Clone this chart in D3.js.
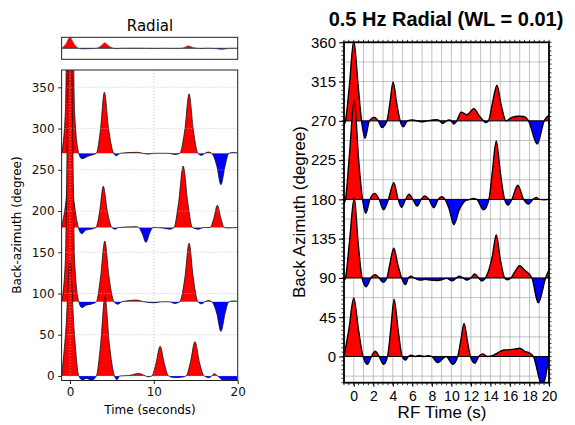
<!DOCTYPE html>
<html><head><meta charset="utf-8">
<script src="https://cdn.jsdelivr.net/npm/d3@7"></script>
<style>body{margin:0;background:#fff}svg{display:block}</style>
</head><body><svg id="c" width="575" height="425"></svg>
<script>
// ---------------- data ----------------
const backAz = [0, 90, 180, 270];
// Left panel (Radial) traces: [time s, amplitude in degrees]
const left0 = [[-1,0],[-0.5,55],[0,138],[0.5,55],[1.05,0],[1.5,-5],[1.9,-3],[2.6,-5],[3.15,0],[3.65,38],[4.17,96],[4.7,38],[5.3,0],[5.6,-4.5],[5.95,0],[7.0,0.5],[8.2,3],[9.0,0],[9.3,-1],[9.75,0],[10.25,15],[10.75,36],[11.25,15],[11.75,0],[12.5,-2],[13.3,-1.5],[13.85,0],[14.35,16],[14.9,41.6],[15.45,16],[16.0,0],[16.6,-2],[16.9,0],[17.2,2.7],[17.6,0],[18.2,-4.5],[19,-4.5],[20,-4.5]];
const left90 = [[-1,0],[-0.55,50],[-0.3,220],[0,400],[0.3,220],[0.55,50],[1.05,0],[1.4,-7],[2.0,-4],[2.5,-3],[3.15,0],[3.65,30],[4.15,73.6],[4.65,30],[5.25,0],[5.7,-3],[6.2,0],[7.95,2],[8.8,0],[10,-1.3],[11.0,0],[11.8,0],[12.5,-2],[13.1,0],[13.7,29],[14.2,71],[14.7,29],[15.25,0],[15.7,-2.5],[16.1,0],[16.5,1.5],[16.9,0],[17.5,-14],[18.0,-36],[18.5,-14],[18.95,0],[19.5,1],[20,0.5]];
const left180 = [[-1,0],[-0.5,30],[0,80],[0.5,30],[1.0,0],[1.4,-7.6],[1.9,-3],[2.5,-2],[3.1,0],[3.55,20],[3.97,50],[4.45,20],[5.0,0],[5.4,-2],[5.8,0],[7.9,1],[8.2,0],[8.6,-7],[9.06,-18],[9.5,-7],[9.9,0],[11.0,-0.5],[11.9,-2],[12.4,0],[12.95,30],[13.5,74.5],[14.05,30],[14.6,0],[15.3,-2],[16.0,0],[16.7,0],[17.15,11],[17.57,27],[18.0,11],[18.4,0],[18.8,-0.5],[20,0]];
const left270 = [[-1,0],[-0.55,50],[-0.3,220],[0,400],[0.3,220],[0.55,50],[1.05,0],[1.4,-6.6],[2.3,-3],[3.15,0],[3.65,30],[4.1,74],[4.6,30],[5.2,0],[5.5,-3],[6.0,0],[7.95,1.2],[8.7,0],[9.3,-1],[10.0,0],[11.8,0],[12.5,-1.5],[13.1,0],[13.7,29],[14.2,72],[14.7,29],[15.25,0],[15.7,-2.5],[16.1,0],[16.5,1.5],[16.9,0],[17.5,-15],[18.0,-38],[18.5,-15],[18.95,0],[19.5,1],[20,0.5]];
// stacked trace (top small panel), normalized
const stackTrace = [[-1,0],[-0.5,0.4],[0,1],[0.5,0.4],[1.05,0],[1.5,-0.06],[2.5,-0.04],[3.15,0],[3.65,0.2],[4.15,0.5],[4.65,0.2],[5.2,0],[5.6,-0.04],[6.1,0],[8,0.02],[9,0],[10,-0.02],[11.5,0],[12.5,-0.02],[13.2,0],[13.7,0.1],[14.1,0.23],[14.6,0.1],[15.2,0],[15.7,-0.03],[16.3,0.01],[16.9,0],[17.5,-0.05],[18.1,-0.12],[18.6,-0.05],[19.0,0],[20,0.01]];
// Right panel (0.5 Hz Radial) traces
const right0 = [[-1,0],[-0.5,31],[0,67],[0.48,31],[0.95,0],[1.4,-8.8],[1.8,0],[2.2,6],[2.6,0],[3.05,-9],[3.46,0],[3.8,32],[4.13,65.5],[4.55,30],[4.96,0],[5.3,-4],[5.6,0],[5.9,1.5],[6.3,0],[6.7,1.2],[7.2,0],[7.6,1],[8.0,0],[8.6,-7],[9.45,0],[10.15,-8.8],[10.65,0],[10.95,17],[11.3,38],[11.65,17],[11.95,0],[12.4,-7.6],[12.8,0],[13.2,3],[13.7,0],[14.2,1],[14.7,4],[15.4,7.5],[16.0,7.8],[16.5,8.5],[17.0,9.5],[17.5,6],[18.0,4],[18.4,0],[19.3,-33],[20,0]];
const right90 = [[-1,-3],[-0.85,0],[-0.45,40],[0.05,92],[0.45,40],[0.85,0],[1.28,-10],[1.75,0],[2.2,3.8],[2.6,0],[3.0,-5],[3.4,0],[3.7,16],[4.1,34],[4.5,16],[4.9,0],[5.3,-7.6],[5.6,0],[5.85,2],[6.2,0],[6.8,-2.5],[7.3,-1.5],[7.9,-2.5],[8.5,-3],[9.0,-2],[9.5,-0.5],[10.1,-3.3],[10.5,0],[10.8,2],[11.2,0],[11.6,-2.5],[12.0,0],[12.4,4.5],[12.8,0],[13.1,-3.4],[13.5,0],[14.2,25],[14.6,49.5],[15.0,22],[15.45,0],[15.7,-2],[16.1,0],[16.5,7],[17.0,14],[17.5,9],[18.25,0],[18.9,-28.6],[19.65,0],[20,9.5]];
const right180 = [[-1,-4],[-0.85,0],[-0.45,50],[0.05,114],[0.5,45],[0.9,0],[1.23,-16],[1.65,0],[2.15,6.9],[2.6,0],[3.05,-12],[3.55,0],[4.1,19],[4.55,0],[4.9,-9],[5.3,0],[5.68,6],[6.05,0],[6.5,-7.6],[6.9,0],[7.28,4],[7.7,0],[8.2,-9.6],[8.65,0],[9.0,3],[9.35,0],[9.8,-12],[10.25,-29],[10.8,-12],[11.5,-1],[11.9,0],[12.2,1],[12.6,0],[13.3,-12],[13.85,0],[14.2,32],[14.6,67],[15.0,32],[15.45,0],[15.8,-6.5],[16.2,0],[16.8,16.3],[17.4,0],[17.9,-5.4],[18.35,0],[18.7,2.3],[19.0,0],[19.5,-0.5],[20,0]];
const right270 = [[-1,-5],[-0.85,0],[-0.45,40],[0.0,92],[0.45,40],[0.8,0],[1.15,-20],[1.6,0],[2.1,4],[2.5,0],[2.9,-7.6],[3.4,0],[3.7,20],[4.03,44.6],[4.4,20],[4.75,0],[5.06,-6.9],[5.5,0],[6.0,1],[6.5,0],[7.0,-1],[7.5,0],[8.5,1.3],[8.8,0],[9.1,-3],[9.5,0],[9.75,1],[10.0,0],[10.25,-3.6],[10.55,0],[11.0,10],[11.6,7],[12.3,14],[12.9,5],[13.3,0],[13.5,-2],[13.8,0],[14.2,20],[14.67,40.8],[15.1,18],[15.6,0],[16.2,4],[16.9,5.3],[17.4,5],[17.9,0],[18.8,-26.5],[19.5,0],[20,6.5]];

const leftYTicks = [0, 50, 100, 150, 200, 250, 300, 350];
const leftXTicks = [0, 10, 20];
const rightYTicks = [0, 45, 90, 135, 180, 225, 270, 315, 360];
const rightXTicks = [0, 2, 4, 6, 8, 10, 12, 14, 16, 18, 20];

const leftTraces = [left0, left90, left180, left270];
const rightTraces = [right0, right90, right180, right270];

// ---------------- drawing ----------------
const svg = d3.select("#c");
const RED = "#ff0000", BLUE = "#0000ff";
let clipId = 0;
function clip(g, x, y, w, h) {
  const id = "cl" + (clipId++);
  svg.append("clipPath").attr("id", id).append("rect").attr("x", x).attr("y", y).attr("width", w).attr("height", h);
  return "url(#" + id + ")";
}
function drawTrace(g, data, base, xs, ys, lw, stroke, x0, x1, y0, y1) {
  const curve = d3.curveMonotoneX;
  const area = d3.area().x(d => xs(d[0])).y0(ys(base)).y1(d => ys(base + d[1])).curve(curve);
  const line = d3.line().x(d => xs(d[0])).y(d => ys(base + d[1])).curve(curve);
  const yb = ys(base);
  const gp = g.append("g").attr("clip-path", clip(g, x0, y0, x1 - x0, yb - y0));
  gp.append("path").attr("d", area(data)).attr("fill", RED);
  const gn = g.append("g").attr("clip-path", clip(g, x0, yb, x1 - x0, y1 - yb));
  gn.append("path").attr("d", area(data)).attr("fill", BLUE);
  g.append("path").attr("d", line(data)).attr("fill", "none").attr("stroke", stroke).attr("stroke-width", lw);
}

// ===== LEFT PANEL =====
const LF = "DejaVu Sans";
const lx = d3.scaleLinear().domain([-1, 20]).range([61.6, 237.7]);
const ly = d3.scaleLinear().domain([-5.5, 371]).range([380.5, 70]);
// small stack axes
const sy = d3.scaleLinear().domain([-1, 1]).range([59.3, 37.3]);
const gs = svg.append("g").attr("clip-path", clip(svg, 61.6, 37.3, 176.1, 22));
drawTrace(gs, stackTrace, 0, lx, sy, 0.6, "#666", 61.6, 237.7, 37.3, 59.3);
svg.append("line").attr("x1", 61.6).attr("x2", 237.7).attr("y1", sy(0)).attr("y2", sy(0)).attr("stroke", "#222").attr("stroke-width", 0.8);
svg.append("rect").attr("x", 61.6).attr("y", 37.3).attr("width", 176.1).attr("height", 22).attr("fill", "none").attr("stroke", "#222").attr("stroke-width", 1);
svg.append("text").attr("x", 150).attr("y", 30.5).attr("text-anchor", "middle").attr("font-family", LF).attr("font-size", 15).text("Radial");

// main left axes (last-drawn trace on top: 270 first, 0 last)
const gl = svg.append("g").attr("clip-path", clip(svg, 61.6, 70, 176.1, 310.5));
[3, 2, 1, 0].forEach(i => drawTrace(gl, leftTraces[i], backAz[i], lx, ly, 0.8, "#111", 61.6, 237.7, 70, 380.5));
// grid on top
const gg = svg.append("g").attr("stroke", "#bbb").attr("stroke-width", 0.8).attr("stroke-dasharray", "1,2");
leftXTicks.forEach(t => gg.append("line").attr("x1", lx(t)).attr("x2", lx(t)).attr("y1", 70).attr("y2", 380.5));
leftYTicks.forEach(v => gg.append("line").attr("x1", 61.6).attr("x2", 237.7).attr("y1", ly(v)).attr("y2", ly(v)));
svg.append("rect").attr("x", 61.6).attr("y", 70).attr("width", 176.1).attr("height", 310.5).attr("fill", "none").attr("stroke", "#222").attr("stroke-width", 1);
const axLY = svg.append("g").attr("transform", "translate(61.6,0)").call(d3.axisLeft(ly).tickValues(leftYTicks).tickSize(3.5).tickPadding(3.5));
const axLX = svg.append("g").attr("transform", "translate(0,380.5)").call(d3.axisBottom(lx).tickValues(leftXTicks).tickSize(3.5).tickPadding(3.5));
[axLY, axLX].forEach(a => { a.select(".domain").remove(); a.selectAll("text").attr("font-family", LF).attr("font-size", 12).attr("fill", "#111"); a.selectAll("line").attr("stroke", "#222"); });
svg.append("text").attr("x", 150).attr("y", 414).attr("text-anchor", "middle").attr("font-family", LF).attr("font-size", 12).text("Time (seconds)");
svg.append("text").attr("transform", "translate(21,225) rotate(-90)").attr("text-anchor", "middle").attr("font-family", LF).attr("font-size", 12).text("Back-azimuth (degree)");

// ===== RIGHT PANEL =====
const RF = "Liberation Sans";
const X0 = 344, X1 = 549, Y0 = 42.3, Y1 = 382.7;
const rx = d3.scaleLinear().domain([-1, 20]).range([X0, X1]);
const ry = d3.scaleLinear().domain([-30, 360]).range([Y1, Y0]);
// grid
const rg = svg.append("g");
d3.range(-1, 20.01, 1).forEach(t => rg.append("line").attr("x1", rx(t)).attr("x2", rx(t)).attr("y1", Y0).attr("y2", Y1).attr("stroke", "#999").attr("stroke-width", 0.6));
d3.range(-22.5, 360.1, 22.5).forEach(v => rg.append("line").attr("x1", X0).attr("x2", X1).attr("y1", ry(v)).attr("y2", ry(v)).attr("stroke", "#999").attr("stroke-width", 0.6));
const gr = svg.append("g").attr("clip-path", clip(svg, X0, Y0, X1 - X0, Y1 - Y0));
[3, 2, 1, 0].forEach(i => {
  drawTrace(gr, rightTraces[i], backAz[i], rx, ry, 1.4, "#000", X0, X1, Y0, Y1);
  gr.append("line").attr("x1", X0).attr("x2", X1).attr("y1", ry(backAz[i])).attr("y2", ry(backAz[i])).attr("stroke", "#000").attr("stroke-width", 1);
});
svg.append("rect").attr("x", X0).attr("y", Y0).attr("width", X1 - X0).attr("height", Y1 - Y0).attr("fill", "none").attr("stroke", "#000").attr("stroke-width", 1.8);
// ticks
const ax1 = svg.append("g").attr("transform", `translate(${X0},0)`).call(d3.axisLeft(ry).tickValues(rightYTicks).tickSize(5).tickPadding(3));
const ax2 = svg.append("g").attr("transform", `translate(0,${Y1})`).call(d3.axisBottom(rx).tickValues(rightXTicks).tickSize(4).tickPadding(4));
ax1.select(".domain").remove(); ax2.select(".domain").remove();
ax1.selectAll("text").attr("font-family", RF).attr("font-size", 15).attr("fill", "#000");
ax2.selectAll("text").attr("font-family", RF).attr("font-size", 14).attr("fill", "#000");
[ax1, ax2].forEach(a => a.selectAll("line").attr("stroke", "#000").attr("stroke-width", 1));
// minor ticks
const mt = svg.append("g").attr("stroke", "#000").attr("stroke-width", 0.8);
d3.range(-30, 360.1, 5).forEach(v => { mt.append("line").attr("x1", X0).attr("x2", X0 - 2.5).attr("y1", ry(v)).attr("y2", ry(v)); mt.append("line").attr("x1", X1).attr("x2", X1 + 2.5).attr("y1", ry(v)).attr("y2", ry(v)); });
d3.range(-1, 20.01, 0.5).forEach(t => { mt.append("line").attr("x1", rx(t)).attr("x2", rx(t)).attr("y1", Y1).attr("y2", Y1 + 2.5); mt.append("line").attr("x1", rx(t)).attr("x2", rx(t)).attr("y1", Y0).attr("y2", Y0 - 2.5); });
svg.append("text").attr("x", 446).attr("y", 26).attr("text-anchor", "middle").attr("font-family", RF).attr("font-weight", "bold").attr("font-size", 20).text("0.5 Hz Radial (WL = 0.01)");
svg.append("text").attr("x", 442).attr("y", 418).attr("text-anchor", "middle").attr("font-family", RF).attr("font-size", 17).text("RF Time (s)");
svg.append("text").attr("transform", "translate(305,212) rotate(-90)").attr("text-anchor", "middle").attr("font-family", RF).attr("font-size", 17).text("Back Azimuth (degree)");
</script></body></html>
